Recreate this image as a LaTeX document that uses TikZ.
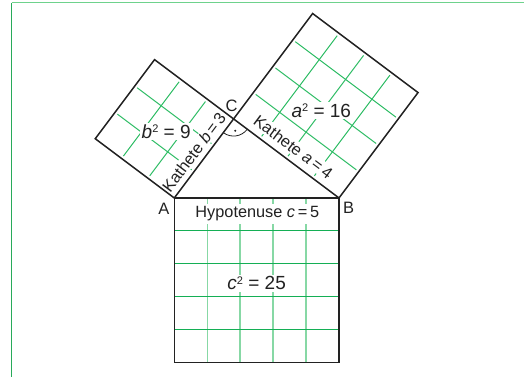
\documentclass[tikz,border=0pt]{standalone}
\usepackage{fontspec}
\setmainfont{Liberation Sans}
\definecolor{ink}{RGB}{34,34,34}
\definecolor{gridgreen}{RGB}{45,188,100}
\definecolor{chorgreen}{RGB}{20,175,85}
\definecolor{cvertgreen}{RGB}{135,216,165}
\definecolor{frametopgreen}{RGB}{110,210,140}
\definecolor{frameleftgreen}{RGB}{40,170,90}
\newcommand{\sqsup}{\raisebox{0.3em}{\fontsize{11}{12}\selectfont 2}}
\begin{document}
\begin{tikzpicture}[x=32.94pt,y=32.94pt,
  border/.style={draw=ink, line width=1.5pt, line join=miter},
  gridline/.style={draw=gridgreen, line width=1pt},
  chor/.style={draw=chorgreen, line width=0.9pt},
  cvert/.style={draw=cvertgreen, line width=1.4pt},
  eqlabel/.style={fill=white, inner sep=2pt, text=ink, font=\fontsize{19}{22}\selectfont, anchor=base},
  leglabel/.style={fill=white, inner sep=1.5pt, text=ink, font=\fontsize{16.3}{19}\selectfont, anchor=base},
  vertexlabel/.style={text=ink, font=\fontsize{16.5}{19}\selectfont, anchor=base, inner sep=0pt}]
\useasboundingbox (-5.292,-5.434) rectangle (10.617,6.011);
% frame
\coordinate (F0) at (-4.936,5.929);
\coordinate (F1) at (10.617,5.929);
\coordinate (F2) at (-4.936,-5.434);
\draw[frametopgreen, line width=1.3pt] (F0) -- (F1);
\draw[frameleftgreen, line width=1pt] (F0) -- (F2);
% vertices
\coordinate (A) at (0,0);
\coordinate (B) at (5,0);
\coordinate (C) at (1.8,2.4);
\coordinate (Bc) at (5,-5);
\coordinate (Ac) at (0,-5);
\coordinate (Cb) at (-0.6,4.2);
\coordinate (Ab) at (-2.4,1.8);
\coordinate (Ba) at (7.4,3.2);
\coordinate (Ca) at (4.2,5.6);
% grids
\foreach \k in {1,...,4} {\draw[cvert] (\k,0) -- (\k,-5);}
\foreach \k in {1,...,4} {\draw[chor] (0,-\k) -- (5,-\k);}
\begin{scope}[shift={(A)}, rotate=53.1301]
  \foreach \k in {1,2} {
    \draw[gridline] (\k,0.09) -- (\k,2.91);
    \draw[gridline] (0.09,\k) -- (2.91,\k);
  }
\end{scope}
\begin{scope}[shift={(C)}, rotate=-36.8699]
  \foreach \k in {1,2,3} {
    \draw[gridline] (\k,0.09) -- (\k,3.91);
    \draw[gridline] (0.09,\k) -- (3.91,\k);
  }
\end{scope}
% labels
\node[leglabel, inner sep=3pt] (hyp) at (2.52,-0.607) {Hypotenuse \textit{c}\,=\,5};
\node[eqlabel] (c2) at (2.5,-2.79) {\textit{c}\sqsup{} = 25};
\node[eqlabel] (b2) at (-0.246,1.812) {\textit{b}\sqsup{} = 9};
\node[eqlabel] (a2) at (4.463,2.45) {\textit{a}\sqsup{} = 16};
\node[leglabel, rotate=53.1301] (kb) at (0.738,1.284) {Kathete \textit{b}\,=\,3};
\node[leglabel, rotate=-36.8699] (ka) at (3.506,1.408) {Kathete \textit{a}\,=\,4};
% borders
\draw[border] (A) -- (B) -- (Bc) -- (Ac) -- cycle;
\draw[border] (A) -- (C) -- (Cb) -- (Ab) -- cycle;
\draw[border] (C) -- (B) -- (Ba) -- (Ca) -- cycle;
% right angle
\draw[ink, line width=0.8pt] ([shift={(233.13:0.52)}]C) arc[start angle=233.13, end angle=323.13, radius=0.52];
\fill[ink] ([shift={(278.13:0.36)}]C) circle (1.1pt);
% vertex labels
\node[vertexlabel] (lA) at (-0.319,-0.495) {A};
\node[vertexlabel] (lB) at (5.294,-0.464) {B};
\node[vertexlabel] (lC) at (1.742,2.62) {C};
\end{tikzpicture}
\end{document}
